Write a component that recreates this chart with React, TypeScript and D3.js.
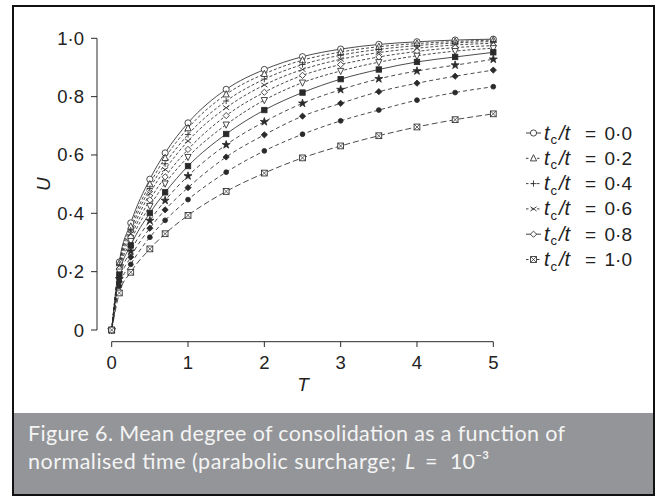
import React from "react";
import * as d3 from "d3";

const T_VALUES = [0, 0.1, 0.25, 0.5, 0.7, 1, 1.5, 2, 2.5, 3, 3.5, 4, 4.5, 5];
const TC_RATIOS = [0.0, 0.1, 0.2, 0.3, 0.4, 0.5, 0.6, 0.7, 0.8, 0.9, 1.0];
const U_SERIES: number[][] = [
  [0, 0.233, 0.367, 0.517, 0.607, 0.71, 0.825, 0.893, 0.937, 0.963, 0.979, 0.988, 0.994, 0.997],
  [0, 0.229, 0.355, 0.5, 0.59, 0.692, 0.808, 0.878, 0.925, 0.953, 0.971, 0.982, 0.989, 0.994],
  [0, 0.224, 0.343, 0.485, 0.57, 0.67, 0.785, 0.86, 0.91, 0.942, 0.962, 0.975, 0.984, 0.989],
  [0, 0.218, 0.33, 0.468, 0.55, 0.648, 0.762, 0.84, 0.893, 0.928, 0.951, 0.966, 0.977, 0.983],
  [0, 0.21, 0.318, 0.446, 0.525, 0.619, 0.735, 0.815, 0.873, 0.91, 0.936, 0.955, 0.968, 0.975],
  [0, 0.2, 0.305, 0.425, 0.502, 0.593, 0.704, 0.788, 0.848, 0.888, 0.918, 0.94, 0.956, 0.966],
  [0, 0.19, 0.29, 0.401, 0.472, 0.562, 0.672, 0.754, 0.814, 0.86, 0.893, 0.919, 0.936, 0.952],
  [0, 0.175, 0.27, 0.375, 0.444, 0.528, 0.635, 0.714, 0.777, 0.824, 0.861, 0.888, 0.908, 0.928],
  [0, 0.165, 0.25, 0.349, 0.412, 0.488, 0.593, 0.669, 0.733, 0.777, 0.817, 0.846, 0.87, 0.891],
  [0, 0.15, 0.225, 0.318, 0.376, 0.447, 0.541, 0.614, 0.671, 0.717, 0.754, 0.788, 0.814, 0.834],
  [0, 0.127, 0.198, 0.278, 0.33, 0.393, 0.475, 0.538, 0.59, 0.631, 0.666, 0.696, 0.721, 0.741],
];
const X_TICKS = [0, 1, 2, 3, 4, 5];
const Y_TICKS = [0, 0.2, 0.4, 0.6, 0.8, 1.0];
const LEGEND_VALUES = ["0·0", "0·2", "0·4", "0·6", "0·8", "1·0"];
const CAPTION_LINE1 = "Figure 6. Mean degree of consolidation as a function of";
const CAPTION_LINE2 = "normalised time (parabolic surcharge;";

const INK = "#2a2a2a";
const DASHES = [null, "3,2", "3,2", "3,2", "3,2", "3,2", null, "4,3", "4,3", "4,3", "6,3"];
const MARKERS = ["circle", "triUp", "plus", "cross", "diamond", "triDown", "squareF", "starF", "diamondF", "circleF", "squareX"];

function Marker({ kind, x, y }: { kind: string; x: number; y: number }) {
  const s = 3.1;
  const common = { stroke: INK, strokeWidth: 0.85 };
  switch (kind) {
    case "circle":
      return <circle cx={x} cy={y} r={s} fill="white" {...common} />;
    case "circleF":
      return <circle cx={x} cy={y} r={2.4} fill={INK} {...common} />;
    case "triUp":
      return <path d={`M${x},${y - s - 0.5}L${x + s},${y + s - 0.5}L${x - s},${y + s - 0.5}Z`} fill="white" {...common} />;
    case "triDown":
      return <path d={`M${x},${y + s + 0.5}L${x + s},${y - s + 0.5}L${x - s},${y - s + 0.5}Z`} fill="white" {...common} />;
    case "plus":
      return <path d={`M${x - s},${y}H${x + s}M${x},${y - s}V${y + s}`} fill="none" {...common} />;
    case "cross":
      return <path d={`M${x - s},${y - s * 0.7}L${x + s},${y + s * 0.7}M${x - s},${y + s * 0.7}L${x + s},${y - s * 0.7}`} fill="none" {...common} />;
    case "diamond":
      return <path d={`M${x},${y - s}L${x + s},${y}L${x},${y + s}L${x - s},${y}Z`} fill="white" {...common} />;
    case "diamondF":
      return <path d={`M${x},${y - s}L${x + s},${y}L${x},${y + s}L${x - s},${y}Z`} fill={INK} {...common} />;
    case "squareF":
      return <rect x={x - 2.7} y={y - 2.7} width={5.4} height={5.4} fill={INK} {...common} />;
    case "starF": {
      const p = d3.symbol().type(d3.symbolStar).size(20)() as string;
      return <path d={p} transform={`translate(${x},${y})`} fill={INK} stroke={INK} strokeWidth={0.8} />;
    }
    case "squareX":
      return (
        <g>
          <rect x={x - 2.9} y={y - 2.9} width={5.8} height={5.8} fill="white" {...common} />
          <path d={`M${x - 2.9},${y - 2.9}L${x + 2.9},${y + 2.9}M${x - 2.9},${y + 2.9}L${x + 2.9},${y - 2.9}`} {...common} strokeWidth={0.7} />
        </g>
      );
    default:
      return null;
  }
}

export default function App() {
  const x = d3.scaleLinear().domain([0, 5]).range([111.7, 493.3]);
  const y = d3.scaleLinear().domain([0, 1]).range([330, 38.3]);
  const line = d3
    .line<number>()
    .x((_, i) => x(T_VALUES[i]))
    .y((d) => y(d))
    .curve(d3.curveMonotoneX);

  const axisFont = "'Liberation Sans', Arial, sans-serif";
  const legendY0 = 133;
  const legendDy = 25.3;
  const legendMarkers = ["circle", "triUp", "plus", "cross", "diamond", "squareX"];
  const legendDash = [null, "2.5,3", "2.5,3", "2.5,3", null, "2.5,3"];
  const captionFont = "Lato, 'Open Sans', sans-serif";

  return (
    <svg width={661} height={501} style={{ position: "absolute", left: 0, top: 0, background: "white" }}>
      <rect x={0} y={0} width={661} height={501} fill="white" />
      {/* caption band */}
      <rect x={13} y={413} width={641} height={82} fill="#939598" />
      <rect x={13} y={6} width={641} height={489} fill="none" stroke="#111" strokeWidth={2} />
      <g fill="#f4f4f4" fontFamily={captionFont} fontSize={21.5}>
        <text x={28} y={441} textLength={537} lengthAdjust="spacing">
          {CAPTION_LINE1}
        </text>
        <text x={28} y={469}>
          <tspan x={28} textLength={368} lengthAdjust="spacing">{CAPTION_LINE2}</tspan>
          <tspan x={405} fontStyle="italic">L</tspan>
          <tspan x={425}>=</tspan>
          <tspan x={450}>10⁻³</tspan>
        </text>
      </g>

      {/* y axis */}
      <line x1={97} x2={97} y1={y(1)} y2={y(0)} stroke={INK} strokeWidth={1} />
      {Y_TICKS.map((t) => (
        <g key={t}>
          <line x1={91} x2={97} y1={y(t)} y2={y(t)} stroke={INK} strokeWidth={1} />
          <text x={84} y={y(t) + 6.5} textAnchor="end" fontFamily={axisFont} fontSize={18.5} fill="#222">
            {t === 0 ? "0" : t.toFixed(1).replace(".", "·")}
          </text>
        </g>
      ))}
      <text
        transform={`translate(50,${y(0.5)}) rotate(-90)`}
        textAnchor="middle"
        fontFamily={axisFont}
        fontStyle="italic"
        fontSize={19}
        fill="#222"
      >
        U
      </text>

      {/* x axis */}
      <line x1={x(0)} x2={x(5)} y1={341.7} y2={341.7} stroke={INK} strokeWidth={1} />
      {X_TICKS.map((t) => (
        <g key={t}>
          <line x1={x(t)} x2={x(t)} y1={341.7} y2={347} stroke={INK} strokeWidth={1} />
          <text x={x(t)} y={369} textAnchor="middle" fontFamily={axisFont} fontSize={18.5} fill="#222">
            {t}
          </text>
        </g>
      ))}
      <text x={303} y={391} textAnchor="middle" fontFamily={axisFont} fontStyle="italic" fontSize={19} fill="#222">
        T
      </text>

      {/* curves */}
      {U_SERIES.map((s, i) => (
        <path
          key={"l" + i}
          d={line(s) as string}
          fill="none"
          stroke={INK}
          strokeWidth={0.85}
          strokeDasharray={DASHES[i] ?? undefined}
        />
      ))}
      {U_SERIES.map((s, i) => (
        <g key={"m" + i}>
          {s.map((v, j) => (
            <Marker key={j} kind={MARKERS[i]} x={x(T_VALUES[j])} y={y(v)} />
          ))}
        </g>
      ))}

      {/* legend */}
      {LEGEND_VALUES.map((lab, i) => {
        const ly = legendY0 + i * legendDy;
        return (
          <g key={lab}>
            <line
              x1={526}
              x2={541}
              y1={ly}
              y2={ly}
              stroke={INK}
              strokeWidth={0.9}
              strokeDasharray={legendDash[i] ?? undefined}
            />
            <Marker kind={legendMarkers[i]} x={533.5} y={ly} />
            <g fontFamily={axisFont} fill="#222">
              <text x={544} y={ly + 6.5} fontSize={20} fontStyle="italic">t</text>
              <text x={550.5} y={ly + 11} fontSize={13}>c</text>
              <text x={559} y={ly + 6.5} fontSize={20} fontStyle="italic">/t</text>
              <text x={585} y={ly + 6.5} fontSize={19}>=</text>
              <text x={632} y={ly + 6.5} fontSize={19} textAnchor="end">{lab}</text>
            </g>
          </g>
        );
      })}
    </svg>
  );
}
